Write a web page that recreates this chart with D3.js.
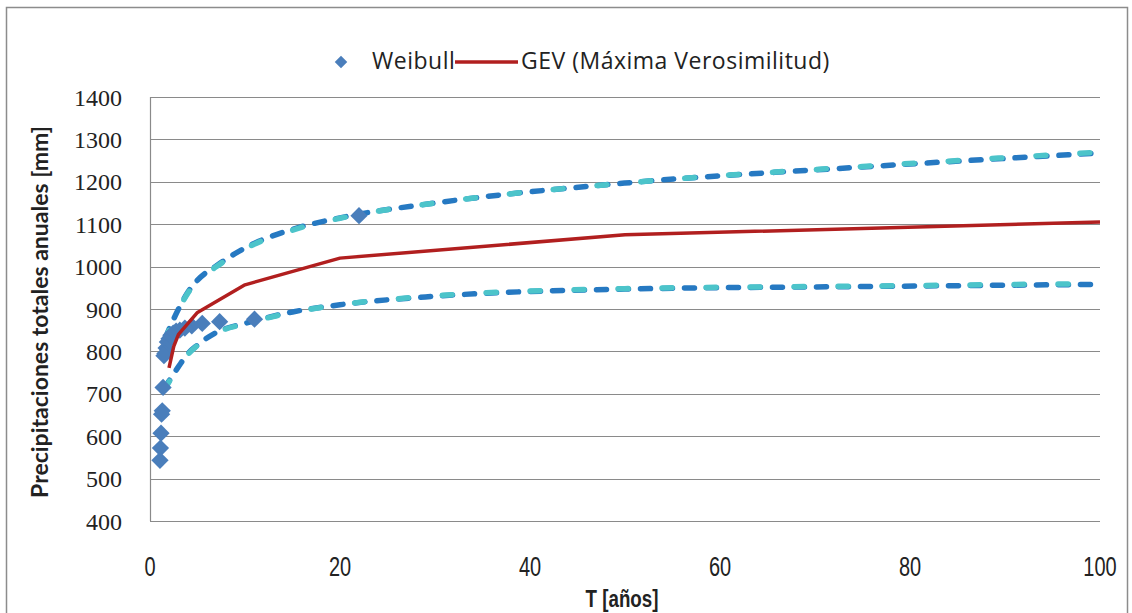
<!DOCTYPE html>
<html><head><meta charset="utf-8">
<script src="https://cdn.jsdelivr.net/npm/d3@7"></script>
<style>body{margin:0;background:#fff;} svg{display:block;}</style>
</head><body>
<svg id="c" width="1132" height="613"></svg>
<script>
// Weibull plotting positions (T = (n+1)/m, n = 21)
const weibullT = [22, 11, 7.33, 5.5, 4.4, 3.67, 3.14, 2.75, 2.44, 2.2, 2.0, 1.83, 1.69, 1.57, 1.47, 1.375, 1.29, 1.22, 1.16, 1.1, 1.05];
const weibullP = [1120, 876, 870, 866, 860, 855, 850, 848, 843, 838, 830, 822, 808, 795, 790, 715, 660, 652, 607, 572, 543];

// GEV (Máxima Verosimilitud)
const gevT = [2, 2.5, 3, 5, 10, 20, 50, 100];
const gevP = [761, 812, 840, 892, 957, 1020, 1075, 1105];

// confidence bands (two overlapping dashed series each)
const bandT = [1.6, 2, 3, 4, 5, 7, 10, 15, 20, 30, 50, 75, 100];
const upperA = [832, 852, 900, 940, 968, 1002, 1044, 1088, 1115, 1150, 1197, 1235, 1268];
const upperB = [828, 850, 898, 938, 966, 1000, 1042, 1086, 1114, 1150, 1197, 1236, 1270];
const lowerT = [1.5, 2, 3, 4, 5, 7, 10, 15, 20, 30, 50, 75, 100];
const lowerA = [712, 730, 764, 795, 815, 845, 866, 893, 910, 930, 947, 953, 958];
const lowerB = [710, 728, 762, 793, 814, 844, 865, 892, 910, 931, 948, 954, 960];

const xTicks = [0, 20, 40, 60, 80, 100];
const yTicks = [400, 500, 600, 700, 800, 900, 1000, 1100, 1200, 1300, 1400];

const svg = d3.select('#c');
const L = 150, R = 1100, T = 97, B = 521;
const x = d3.scaleLinear().domain([0, 100]).range([L, R]);
const y = d3.scaleLinear().domain([400, 1400]).range([B, T]);

// outer border
svg.append('rect').attr('x', 6.5).attr('y', 7.5).attr('width', 1121).attr('height', 620)
  .attr('fill', '#fff').attr('stroke', '#8c8c8c').attr('stroke-width', 1.5);

// gridlines
svg.append('g').selectAll('line').data(yTicks).join('line')
  .attr('x1', L).attr('x2', R).attr('y1', d => Math.round(y(d)) + 0.5).attr('y2', d => Math.round(y(d)) + 0.5)
  .attr('stroke', '#8a8a8a').attr('stroke-width', 1);
// left axis line
svg.append('line').attr('x1', L + 0.5).attr('x2', L + 0.5).attr('y1', T).attr('y2', B)
  .attr('stroke', '#8a8a8a').attr('stroke-width', 1.2);

// y tick labels
svg.append('g').selectAll('text').data(yTicks).join('text')
  .attr('x', 122).attr('y', d => y(d)).attr('dy', '0.36em').attr('text-anchor', 'end')
  .style('font-family', "'Liberation Serif', 'DejaVu Serif', serif").attr('font-size', 24)
  .attr('fill', '#222').text(d => d);

// x tick labels (condensed look)
svg.append('g').selectAll('text').data(xTicks).join('text')
  .attr('transform', d => `translate(${x(d)},576) scale(0.74,1)`).attr('text-anchor', 'middle')
  .style('font-family', "'Liberation Sans', Arial, sans-serif").attr('font-size', 27)
  .attr('fill', '#222').text(d => d);

// axis titles
svg.append('text').attr('transform', 'translate(622,607) scale(0.78,1)').attr('text-anchor', 'middle')
  .style('font-family', "'Liberation Sans', Arial, sans-serif").attr('font-weight', 'bold')
  .attr('font-size', 24).attr('fill', '#222').text('T [años]');
svg.append('text').attr('transform', 'translate(48,312) rotate(-90)').attr('text-anchor', 'middle')
  .style('font-family', 'Lato, sans-serif').attr('font-weight', 'bold')
  .attr('font-size', 23).attr('fill', '#222').text('Precipitaciones totales anuales [mm]');

const line = (ts, vs) => d3.line().x((d, i) => x(ts[i])).y(d => y(d))(vs);
const smooth = (ts, vs) => d3.line().curve(d3.curveMonotoneX).x((d, i) => x(ts[i])).y(d => y(d))(vs);

const plot = svg.append('g');
// dashed bands: dark blue base, cyan covering every other dash
const dashed = [
  [bandT, upperA, '#2679c2', '10 12', 0], [bandT, upperB, '#4cc4ca', '10 34', 0],
  [lowerT, lowerA, '#2679c2', '10 12', 0], [lowerT, lowerB, '#4cc4ca', '10 34', 0]
];
dashed.forEach(([ts, vs, col, da, off]) => {
  plot.append('path').attr('d', smooth(ts, vs)).attr('fill', 'none').attr('stroke', col)
    .attr('stroke-width', 5.5).attr('stroke-linecap', 'round')
    .attr('stroke-dasharray', da).attr('stroke-dashoffset', off);
});

// Weibull diamonds
const sym = d3.symbol().type(d3.symbolDiamond2).size(190);
plot.selectAll('path.w').data(weibullP).join('path').attr('class', 'w')
  .attr('transform', (d, i) => `translate(${x(weibullT[i])},${y(d)})`)
  .attr('d', sym).attr('fill', '#4a7ebb');

// GEV line
plot.append('path').attr('d', line(gevT, gevP)).attr('fill', 'none')
  .attr('stroke', '#b11f1f').attr('stroke-width', 3.5).attr('stroke-linejoin', 'round');

// legend
const lg = svg.append('g');
lg.append('path').attr('transform', 'translate(341,62)').attr('d', d3.symbol().type(d3.symbolDiamond2).size(100)).attr('fill', '#4a7ebb');
lg.append('text').attr('x', 372).attr('y', 61).attr('dy', '0.35em').style('font-family', "'Open Sans', sans-serif")
  .attr('font-size', 23).attr('letter-spacing', 0.5).attr('fill', '#222').text('Weibull');
lg.append('line').attr('x1', 455).attr('x2', 518).attr('y1', 62).attr('y2', 62).attr('stroke', '#b11f1f').attr('stroke-width', 3.5);
lg.append('text').attr('x', 521).attr('y', 61).attr('dy', '0.35em').style('font-family', "'Open Sans', sans-serif")
  .attr('font-size', 23).attr('letter-spacing', 0.5).attr('fill', '#222').text('GEV (Máxima Verosimilitud)');
</script>
</body></html>
